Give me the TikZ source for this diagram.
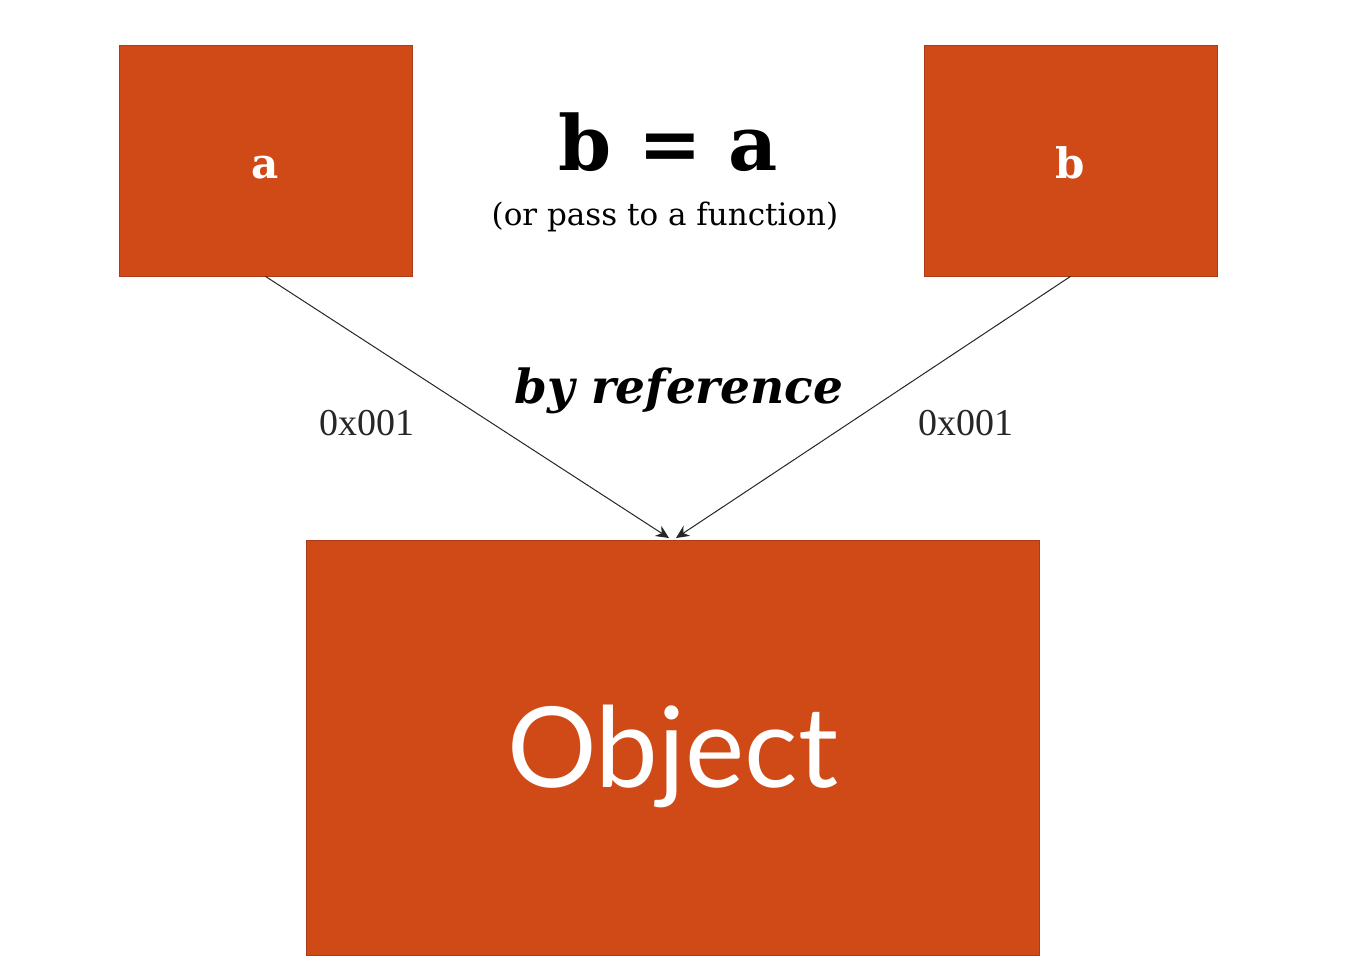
\documentclass[tikz,border=0pt]{standalone}
\usepackage{fontspec}
\setmainfont{Liberation Serif}
\newfontfamily\slab{DejaVu Serif}
\newfontfamily\objfont{Lato}
\usetikzlibrary{arrows.meta}
\definecolor{boxorange}{RGB}{208,74,24}
\definecolor{boxedge}{RGB}{170,60,25}
\tikzset{
  obox/.style={draw=boxedge, line width=0.8pt, fill=boxorange, inner sep=0pt, text=white},
  smallbox/.style={obox, minimum width=293pt, minimum height=231pt, text height=35pt, text depth=0pt,
    font=\slab\bfseries\fontsize{42}{46}\selectfont},
  link/.style={draw=black!85, line width=1pt, -{Stealth[length=13pt,width=12pt]}},
  addr/.style={font=\fontsize{38}{42}\selectfont, text=black!85}
}
\begin{document}
\begin{tikzpicture}[x=1pt,y=-1pt]
\useasboundingbox (0,0) rectangle (1363,967);
\fill[white] (0,0) rectangle (1363,967);
\node[smallbox] (a) at (265.5,160.5) {a};
\node[smallbox] (b) at (1070.5,160.5) {b};
\node[obox, minimum width=733pt, minimum height=415pt, text height=79pt, text depth=0pt,
  font=\objfont\fontsize{112}{118}\selectfont] (obj) at (672.5,747.5) {Object};
\node[font=\slab\bfseries\fontsize{76}{80}\selectfont, anchor=base] (eq) at (668,170) {b = a};
\node[font=\slab\fontsize{31}{35}\selectfont, anchor=base] (sub) at (665,225) {(or pass to a function)};
\node[font=\slab\bfseries\itshape\fontsize{47}{51}\selectfont, anchor=base] (byref) at (679,403) {by reference};
\node[addr, anchor=base] (la) at (367,435) {0x001};
\node[addr, anchor=base] (lb) at (966,435) {0x001};
\coordinate (ta) at (669,538);
\coordinate (tb) at (676,538);
\draw[link] (a.south) -- (ta);
\draw[link] (b.south) -- (tb);
\end{tikzpicture}
\end{document}
